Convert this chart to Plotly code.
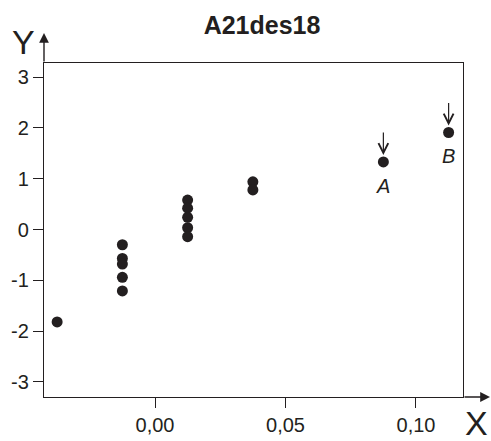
import plotly.graph_objects as go

# Scatter data
x_vals = [-0.0375,
          -0.0125, -0.0125, -0.0125, -0.0125, -0.0125,
          0.0125, 0.0125, 0.0125, 0.0125, 0.0125,
          0.0375, 0.0375,
          0.0875, 0.1125]
y_vals = [-1.82,
          -0.30, -0.57, -0.68, -0.94, -1.21,
          0.58, 0.42, 0.24, 0.035, -0.14,
          0.94, 0.78,
          1.33, 1.91]

# Flagged points
flag_x = [0.0875, 0.1125]
flag_y = [1.33, 1.91]
flag_labels = ["A", "B"]

x_ticks = [0.0, 0.05, 0.10]
x_tick_labels = ["0,00", "0,05", "0,10"]
y_ticks = [-3, -2, -1, 0, 1, 2, 3]
y_tick_labels = ["-3", "-2", "-1", "0", "1", "2", "3"]

FONT = "Liberation Sans, Arial, sans-serif"
INK = "#231f20"

fig = go.Figure()
fig.add_trace(go.Scatter(
    x=x_vals, y=y_vals, mode="markers",
    marker=dict(size=11, color=INK, line=dict(width=0)),
    showlegend=False, hoverinfo="skip",
))

annotations = []
for fx, fy, lab in zip(flag_x, flag_y, flag_labels):
    # downward arrow above the point
    annotations.append(dict(
        x=fx, y=fy, xref="x", yref="y", text="",
        showarrow=True, ax=0, ay=-31, axref="pixel", ayref="pixel",
        arrowhead=5, arrowsize=1.6, arrowwidth=1.2, arrowcolor=INK,
        standoff=7,
    ))
    # italic letter below the point
    annotations.append(dict(
        x=fx, y=fy, xref="x", yref="y", text=f"<i>{lab}</i>",
        showarrow=False, yshift=-24,
        font=dict(family=FONT, size=20, color=INK),
    ))

# axis arrows extending past the frame
annotations.append(dict(
    x=0, y=1.09, xref="paper", yref="paper", text="",
    showarrow=True, ax=0, ay=30, axref="pixel", ayref="pixel",
    arrowhead=2, arrowsize=1.4, arrowwidth=1.4, arrowcolor=INK, standoff=0,
))
annotations.append(dict(
    x=1.0644, y=0, xref="paper", yref="paper", text="",
    showarrow=True, ax=-27, ay=0, axref="pixel", ayref="pixel",
    arrowhead=2, arrowsize=1.4, arrowwidth=1.4, arrowcolor=INK, standoff=0,
))
# axis names
annotations.append(dict(
    x=-0.048, y=1.063, xref="paper", yref="paper", text="Y",
    showarrow=False, xanchor="center", yanchor="middle",
    font=dict(family=FONT, size=34, color=INK),
))
annotations.append(dict(
    x=1.0334, y=-0.078, xref="paper", yref="paper", text="X",
    showarrow=False, xanchor="center", yanchor="middle",
    font=dict(family=FONT, size=34, color=INK),
))

axis_common = dict(
    showline=True, mirror=True, linecolor=INK, linewidth=1.4,
    ticks="outside", ticklen=10, tickwidth=1.4, tickcolor=INK,
    showgrid=False, zeroline=False, automargin=False,
    tickfont=dict(family=FONT, size=20, color=INK),
)

fig.update_layout(
    width=491, height=441,
    margin=dict(l=44, r=28, t=63, b=44),
    paper_bgcolor="white", plot_bgcolor="white",
    title=dict(
        text="<b>A21des18</b>", x=262 / 491, y=1 - 25 / 441,
        xanchor="center", yanchor="middle", xref="container", yref="container",
        font=dict(family=FONT, size=25, color=INK),
    ),
    xaxis=dict(range=[-0.04253, 0.11801], tickvals=x_ticks, ticktext=x_tick_labels, **axis_common),
    yaxis=dict(range=[-3.297, 3.278], tickvals=y_ticks, ticktext=y_tick_labels, **axis_common),
    annotations=annotations,
)

fig.write_html("out.html")
